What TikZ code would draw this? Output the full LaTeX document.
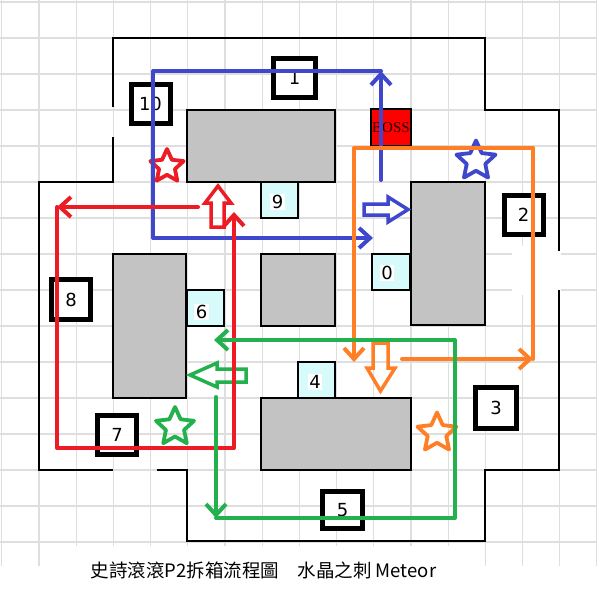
\documentclass[tikz,border=0pt]{standalone}
\usepackage{fontspec}
\setmainfont{DejaVu Sans}
\newfontfamily\cjkfont{Noto Sans CJK TC}
\newfontfamily\bossfont{Liberation Serif}
\usetikzlibrary{shapes,arrows.meta}
\definecolor{gridgray}{RGB}{222,222,222}
\definecolor{pillargray}{RGB}{195,195,195}
\definecolor{chestcyan}{RGB}{215,250,250}
\definecolor{bossred}{RGB}{255,0,0}
\definecolor{bosstext}{RGB}{40,0,0}
\definecolor{pathblue}{RGB}{63,72,204}
\definecolor{pathred}{RGB}{237,28,36}
\definecolor{pathorange}{RGB}{255,127,39}
\definecolor{pathgreen}{RGB}{34,177,76}
\tikzstyle{gridline} = [draw=gridgray, line width=1.2pt]
\tikzstyle{wall} = [draw=black, line width=2pt]
\tikzstyle{pillar} = [rectangle, draw, line width=2pt, fill=pillargray, inner sep=0pt]
\tikzstyle{chest} = [rectangle, draw, line width=1.6pt, fill=chestcyan, inner sep=0pt,
    minimum width=37pt, minimum height=36pt]
\tikzstyle{chestno} = [fill=white, inner sep=1.5pt, font=\fontsize{18}{18}\selectfont]
\tikzstyle{spot} = [rectangle, draw, line width=5pt, fill=white, inner sep=0pt,
    minimum width=39pt, minimum height=39pt, font=\fontsize{18}{18}\selectfont]
\tikzstyle{boss} = [rectangle, draw, line width=1.5pt, fill=bossred, inner sep=0pt,
    minimum width=40pt, minimum height=37pt, text=bosstext, font=\bossfont\fontsize{15}{15}\selectfont]
\tikzstyle{route} = [line width=4pt, line cap=round, line join=round]
\tikzstyle{barb} = [-{Straight Barb[length=11pt,width=20pt]}]
\tikzstyle{hollow} = [line width=3.5pt, line join=miter]
\tikzstyle{starmark} = [star, star points=5, star point ratio=2.1, draw, line width=3.8pt,
    line join=round, inner sep=0pt, minimum size=41pt]
\begin{document}
\begin{tikzpicture}[x=1pt,y=-1pt]
      \useasboundingbox (0,0) rectangle (597,591);
      \fill[white] (0,0) rectangle (597,591);
      % grid paper
      \foreach \k in {0,...,16} {
        \draw[gridline] ({1.7+37.2*\k},0) -- ({1.7+37.2*\k},591);
        \draw[gridline] (0,{2+36*\k}) -- (597,{2+36*\k});
      }
      \fill[white] (512,246) rectangle (561,295);
      \fill[white] (44,546) rectangle (470,591);
      \fill[white] (0,566) rectangle (597,591);

      % outer walls
      \draw[wall] (113,107) -- (113,38) -- (485,38) -- (485,110) -- (559,110) -- (559,251);
      \draw[wall] (559,290) -- (559,470) -- (485,470) -- (485,541) -- (187,541) -- (187,470) -- (157,470);
      \draw[wall] (113,470) -- (39,470) -- (39,182) -- (113,182) -- (113,137);

      % pillars
      \node [pillar, minimum width=148pt, minimum height=72pt] (ptop) at (261,146) {};
      \node [pillar, minimum width=74pt, minimum height=143pt] (pright) at (448,253.5) {};
      \node [pillar, minimum width=74pt, minimum height=72pt] (pmid) at (298,290) {};
      \node [pillar, minimum width=73pt, minimum height=144pt] (pleft) at (149.5,326) {};
      \node [pillar, minimum width=150pt, minimum height=72pt] (pbottom) at (336,434) {};

      % chests
      \node [chest, label={[chestno,xshift=-2pt,yshift=-2pt]center:9}] (c9) at (279.5,200) {};
      \node [chest, minimum width=38pt, label={[chestno,xshift=-4pt,yshift=-1pt]center:0}] (c0) at (391,272) {};
      \node [chest, label={[chestno,xshift=-4pt,yshift=-4pt]center:6}] (c6) at (205.5,308) {};
      \node [chest, label={[chestno,xshift=-1.5pt,yshift=-2pt]center:4}] (c4) at (316.5,380) {};

      % numbered spots
      \node [spot] (s10) at (150.5,104) {10};
      \node [spot, minimum width=42pt] (s1) at (294.5,78) {1};
      \node [spot] (s2) at (523.5,214.5) {2};
      \node [spot, minimum width=41pt, minimum height=41pt] (s3) at (496,408) {3};
      \node [spot, minimum width=40pt, minimum height=37pt] (s5) at (342.5,510) {5};
      \node [spot] (s7) at (117,435) {7};
      \node [spot, minimum height=40pt] (s8) at (71,299.5) {8};

      \node [boss] (boss) at (391,127.5) {BOSS};

      % hollow arrows
      \draw[hollow, pathblue] (364,204) -- (388,204) -- (388,197) -- (408,209.5) -- (388,222) -- (388,215) -- (364,215) -- cycle;
      \draw[hollow, pathred] (211,227) -- (211,203) -- (205,203) -- (218,186) -- (231,203) -- (224,203) -- (224,227) -- cycle;
      \draw[hollow, pathorange] (373,343) -- (388,343) -- (388,368) -- (395,368) -- (380.5,391) -- (367,368) -- (373,368) -- cycle;
      \draw[hollow, pathgreen] (246,369) -- (217,369) -- (217,363) -- (190,375) -- (217,387) -- (217,382) -- (246,382) -- cycle;

      % stars
      \node [starmark, draw=pathblue] (starblue) at (476,161) {};
      \node [starmark, draw=pathred, minimum size=35pt] (starred) at (167,166.5) {};
      \node [starmark, draw=pathorange] (starorange) at (437,433) {};
      \node [starmark, draw=pathgreen, minimum size=40pt] (stargreen) at (175,427) {};

      % blue route
      \coordinate (b0) at (381,180);
      \coordinate (b1) at (381,71);
      \coordinate (b2) at (153,71);
      \coordinate (b3) at (153,238);
      \coordinate (b4) at (373,238);
      \draw[route, pathblue, barb] (b0) -- (b1);
      \draw[route, pathblue, barb] (b1) -- (b2) -- (b3) -- (b4);

      % red route
      \coordinate (r0) at (198,207);
      \coordinate (r1) at (57,207);
      \coordinate (r2) at (57,448);
      \coordinate (r3) at (234,448);
      \coordinate (r4) at (234,212);
      \draw[route, pathred, barb] (r0) -- (r1);
      \draw[route, pathred, barb] (r1) -- (r2) -- (r3) -- (r4);

      % orange route
      \coordinate (o1) at (533,148);
      \coordinate (o2) at (533,359);
      \coordinate (o3) at (402,359);
      \coordinate (o4) at (354,148);
      \coordinate (o5) at (354,362);
      \draw[route, pathorange] (o1) -- (o2);
      \draw[route, pathorange, barb] (o1) -- (o4) -- (o5);
      \draw[route, pathorange, barb] (o3) -- (o2);

      % green route
      \coordinate (g0) at (216,397);
      \coordinate (g1) at (216,518);
      \coordinate (g2) at (455,518);
      \coordinate (g3) at (455,340);
      \coordinate (g4) at (214,340);
      \draw[route, pathgreen, barb] (g0) -- (g1);
      \draw[route, pathgreen, barb] (g1) -- (g2) -- (g3) -- (g4);

      \node [font=\cjkfont\fontsize{18.5}{18.5}\selectfont] (caption) at (263.5,570) {史詩滾滾P2拆箱流程圖　水晶之刺 Meteor};
\end{tikzpicture}
\end{document}
